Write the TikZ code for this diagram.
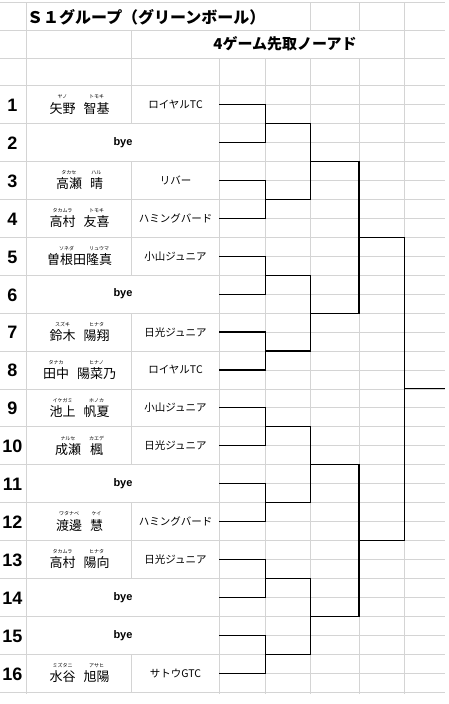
\documentclass[tikz,border=0pt]{standalone}
\usepackage{fontspec}
\setmainfont{Noto Sans CJK JP}
\newfontfamily\latina{Liberation Sans}
\definecolor{rejilla}{HTML}{D4D4D4}
% nombre con furigana encima
\newcommand{\furi}[2]{\shortstack{\fontsize{5}{5}\selectfont #2\\\fontsize{13}{13}\selectfont #1}}

\begin{document}
\begin{tikzpicture}[x=1pt,y=-1pt,
		celda/.style={draw=rejilla, line width=0.8pt},
		llave/.style={draw=black, line width=1.15pt},
		num/.style={inner sep=0pt, font=\latina\bfseries\fontsize{18}{18}\selectfont},
		nombre/.style={inner sep=0pt, anchor=base},
		equipo/.style={inner sep=0pt, font=\fontsize{10.5}{10.5}\selectfont},
		libre/.style={inner sep=0pt, font=\latina\bfseries\fontsize{11}{11}\selectfont}]
	
	\useasboundingbox (0,0) rectangle (449,704);
	
	% Rejilla de la hoja
	\foreach \h in {2.7,30.7,58.3}
		\draw[celda] (0,\h) -- (445,\h);
	\foreach \k in {0,...,16}
		\draw[celda] (0,{85.7+37.9*\k}) -- (445,{85.7+37.9*\k});
	\foreach \k in {0,...,15}
		\draw[celda] (219.3,{104.65+37.9*\k}) -- (445,{104.65+37.9*\k});
	\draw[celda] (26.7,2.7) -- (26.7,693.7);
	\draw[celda] (131.7,30.7) -- (131.7,85.7);
	\draw[celda] (219.3,58.3) -- (219.3,693.7);
	\draw[celda] (265.7,58.3) -- (265.7,693.7);
	\foreach \x in {310.7,359} {
		\draw[celda] (\x,2.7) -- (\x,30.7);
		\draw[celda] (\x,58.3) -- (\x,693.7);
	}
	\draw[celda] (404.3,2.7) -- (404.3,693.7);
	
	% Titulos
	\node[inner sep=0pt, anchor=west, font=\bfseries\fontsize{16}{16}\selectfont] (titulo) at (27,17) {Ｓ１グループ（グリーンボール）};
	\node[inner sep=0pt, font=\bfseries\fontsize{15}{15}\selectfont] (formato) at (285,44) {4ゲーム先取ノーアド};
	
	% Numeros de sorteo
	\foreach \i in {1,...,16}
		\node[num] (n\i) at (12.5,{67.5+37.9*\i}) {\i};
	
	% Jugadores
	\foreach \i/\fa/\far/\gi/\gir/\eq/\esp in {1/矢野/ヤノ/智基/トモキ/ロイヤルTC/8,
			3/高瀬/タカセ/晴/ハル/リバー/8,
			4/高村/タカムラ/友喜/トモキ/ハミングバード/8,
			5/曽根田/ソネダ/隆真/リュウマ/小山ジュニア/0,
			7/鈴木/スズキ/陽翔/ヒナタ/日光ジュニア/8,
			8/田中/タナカ/陽菜乃/ヒナノ/ロイヤルTC/8,
			9/池上/イケガミ/帆夏/ホノカ/小山ジュニア/8,
			10/成瀬/ナルセ/楓/カエデ/日光ジュニア/8,
			12/渡邊/ワタナベ/慧/ケイ/ハミングバード/8,
			13/高村/タカムラ/陽向/ヒナタ/日光ジュニア/8,
			16/水谷/ミズタニ/旭陽/アサヒ/サトウGTC/8} {
		\node[nombre] (nom\i) at (79.5,{66.75+37.9*\i+8.5}) {\furi{\fa}{\far}\hspace{\esp pt}\furi{\gi}{\gir}};
		\node[equipo] (eq\i) at (175.5,{66.75+37.9*\i}) {\eq};
		\draw[celda] (131.7,{85.7+37.9*(\i-1)}) -- ++(0,37.9);
	}
	
	% Byes
	\foreach \i in {2,6,11,14,15}
		\node[libre] (bye\i) at (123,{66.75+37.9*\i}) {bye};
	
	% Puntos del cuadro
	\foreach \i in {1,...,16}
		\coordinate (p\i) at (219.3,{66.75+37.9*\i});
	\foreach \k in {1,...,8}
		\coordinate (a\k) at (265.7,{66.75+37.9*(2*\k-0.5)});
	\foreach \k in {1,...,4}
		\coordinate (b\k) at (310.7,{66.75+37.9*(4*\k-1.5)});
	\foreach \k in {1,2}
		\coordinate (c\k) at (359,{66.75+37.9*(8*\k-3.5)});
	\coordinate (d1) at (404.3,{66.75+37.9*8.5});
	\coordinate (final) at (445,{66.75+37.9*8.5});
	
	% Cuadro de partidos
	\foreach \k [evaluate=\k as \u using int(2*\k-1), evaluate=\k as \v using int(2*\k)] in {1,...,8}
		\draw[llave] (p\u) -| (a\k) |- (p\v);
	\foreach \k [evaluate=\k as \u using int(2*\k-1), evaluate=\k as \v using int(2*\k)] in {1,...,4}
		\draw[llave] (a\u) -| (b\k) |- (a\v);
	\foreach \k [evaluate=\k as \u using int(2*\k-1), evaluate=\k as \v using int(2*\k)] in {1,2}
		\draw[llave] (b\u) -| (c\k) |- (b\v);
	\draw[llave] (c1) -| (d1) |- (c2);
	\draw[llave] (d1) -- (final);
	
\end{tikzpicture}
\end{document}
